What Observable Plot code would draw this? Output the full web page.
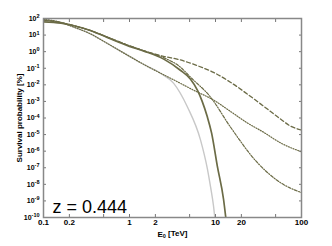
<!DOCTYPE html>
<html><head><meta charset="utf-8">
<script src="https://cdn.jsdelivr.net/npm/d3@7"></script>
<script src="https://cdn.jsdelivr.net/npm/@observablehq/plot@0.6"></script>
<style>body{margin:0;background:#fff} svg{display:block}</style>
</head><body><div id="chart"></div>
<script>
// Energy E0 [TeV] and log10(survival probability [%])
const solidE   = [0.1, 0.16, 0.22, 0.35, 0.55, 1.0, 1.5, 2.5, 3.9, 5.1, 6.2, 7.0, 8.0, 9.0, 10.5, 12.4, 13.3];
const solidLog = [1.80, 1.72, 1.58, 1.28, 0.86, 0.32, 0.02, -0.45, -1.12, -1.65, -2.35, -3.0, -3.9, -4.9, -6.9, -8.9, -10.2];

const greyE    = [0.1, 0.15, 0.22, 0.35, 0.55, 1.03, 1.5, 2.29, 3.25, 4.72, 6.69, 8.07, 8.75, 9.48, 9.9];
const greyLog  = [1.95, 1.8, 1.5, 1.08, 0.5, -0.32, -0.8, -1.30, -1.90, -3.34, -5.32, -7.1, -8.14, -9.3, -10.2];

const dotE     = [0.1, 0.15, 0.22, 0.35, 0.55, 1.03, 1.5, 2.3, 3.5, 5.55, 9.5, 14.9, 23.5, 36, 57, 100];
const dotLog   = [1.95, 1.8, 1.5, 1.08, 0.5, -0.32, -0.8, -1.30, -1.78, -2.32, -2.92, -3.6, -4.30, -4.85, -5.50, -6.04];

const dashE    = [0.1, 0.15, 0.22, 0.35, 0.55, 1.03, 1.5, 2.49, 3.92, 6.18, 9.48, 14.9, 23.5, 36.1, 57, 74, 100];
const dashLog  = [1.9, 1.78, 1.58, 1.28, 0.88, 0.33, 0.04, -0.28, -0.50, -0.85, -1.25, -1.84, -2.56, -3.28, -4.06, -4.48, -4.72];

const ddE      = [0.1, 0.15, 0.22, 0.35, 0.55, 1.03, 1.5, 2.49, 3.92, 5.12, 8.75, 14.9, 30.8, 57, 100];
const ddLog    = [1.9, 1.78, 1.58, 1.28, 0.88, 0.33, 0.04, -0.36, -0.94, -1.54, -2.74, -4.54, -6.70, -7.90, -8.50];

const xTicks = [0.1, 0.2, 0.5, 1, 2, 5, 10, 20, 50, 100];
const xTickLabels = ["0.1", "0.2", "0.5", "1", "2", "5", "10", "20", "50", "100"];
const yExponents = [2, 1, 0, -1, -2, -3, -4, -5, -6, -7, -8, -9, -10];
const annotation = "z = 0.444";

const olive = "#6b6b46";
const toRows = (E, L) => E.map((e, i) => ({E: e, P: Math.pow(10, L[i])}));
const yTicks = yExponents.map(k => Math.pow(10, k));
const fam = "'Liberation Sans', Arial, sans-serif";

const chart = Plot.plot({
  width: 332, height: 246,
  marginLeft: 43, marginRight: 31, marginTop: 18, marginBottom: 29,
  style: {fontFamily: fam, fontSize: "8px", fontWeight: "bold", color: "#000", background: "#fff"},
  x: {type: "log", domain: [0.1, 100]},
  y: {type: "log", domain: [1e-10, 1e2]},
  marks: [
    Plot.line(toRows(greyE, greyLog), {x: "E", y: "P", stroke: "#c8c8c8", strokeWidth: 1.4, curve: "monotone-x", clip: true}),
    Plot.line(toRows(dotE, dotLog), {x: "E", y: "P", stroke: olive, strokeWidth: 1.2, strokeDasharray: "1,1.5", curve: "monotone-x", clip: true}),
    Plot.line(toRows(dashE, dashLog), {x: "E", y: "P", stroke: olive, strokeWidth: 1.3, strokeDasharray: "4,2.5", curve: "monotone-x", clip: true}),
    Plot.line(toRows(ddE, ddLog), {x: "E", y: "P", stroke: olive, strokeWidth: 1.2, strokeDasharray: "3,1.5,1,1.5", curve: "monotone-x", clip: true}),
    Plot.line(toRows(solidE, solidLog), {x: "E", y: "P", stroke: olive, strokeWidth: 1.7, curve: "monotone-x", clip: true}),
    Plot.axisX({anchor: "bottom", ticks: xTicks, tickSize: -3, tickPadding: 5, stroke: "#777",
      tickFormat: d => xTickLabels[xTicks.indexOf(d)], label: "E0 [TeV]", labelAnchor: "center", labelArrow: "none", labelOffset: 19}),
    Plot.axisX({anchor: "top", ticks: xTicks, tickSize: -3, stroke: "#777", tickFormat: () => "", label: null}),
    Plot.axisY({anchor: "left", ticks: yTicks, tickSize: -3, tickPadding: 7, stroke: "#777",
      tickFormat: d => String(Math.round(Math.log10(d))), label: "Survival probability [%]", labelAnchor: "center", labelArrow: "none", labelOffset: 27}),
    Plot.axisY({anchor: "right", ticks: yTicks, tickSize: -3, stroke: "#777", tickFormat: () => "", label: null}),
    Plot.frame({stroke: "#888", strokeWidth: 1.5}),
    Plot.text([annotation], {frameAnchor: "bottom-left", dx: 9, dy: -5, lineAnchor: "bottom", textAnchor: "start",
      fontSize: 18, fontWeight: "normal", fill: "#000"})
  ]
});

// render exponents as superscripts on the y axis, subscript on the x label
d3.select(chart).selectAll("g[aria-label='y-axis tick label'] text").each(function() {
  const t = d3.select(this);
  const exp = t.text();
  if (!exp) return;
  t.text("10").attr("font-size", "7px");
  t.append("tspan").attr("dy", "-0.5em").attr("font-size", "5.5px").text(exp);
});
d3.select(chart).selectAll("g[aria-label='x-axis label'] text").each(function() {
  const t = d3.select(this);
  t.text("E");
  t.append("tspan").attr("dy", "0.3em").attr("font-size", "5.5px").text("0");
  t.append("tspan").attr("dy", "-0.3em").text(" [TeV]");
});
document.getElementById("chart").appendChild(chart);
</script>
</body></html>
